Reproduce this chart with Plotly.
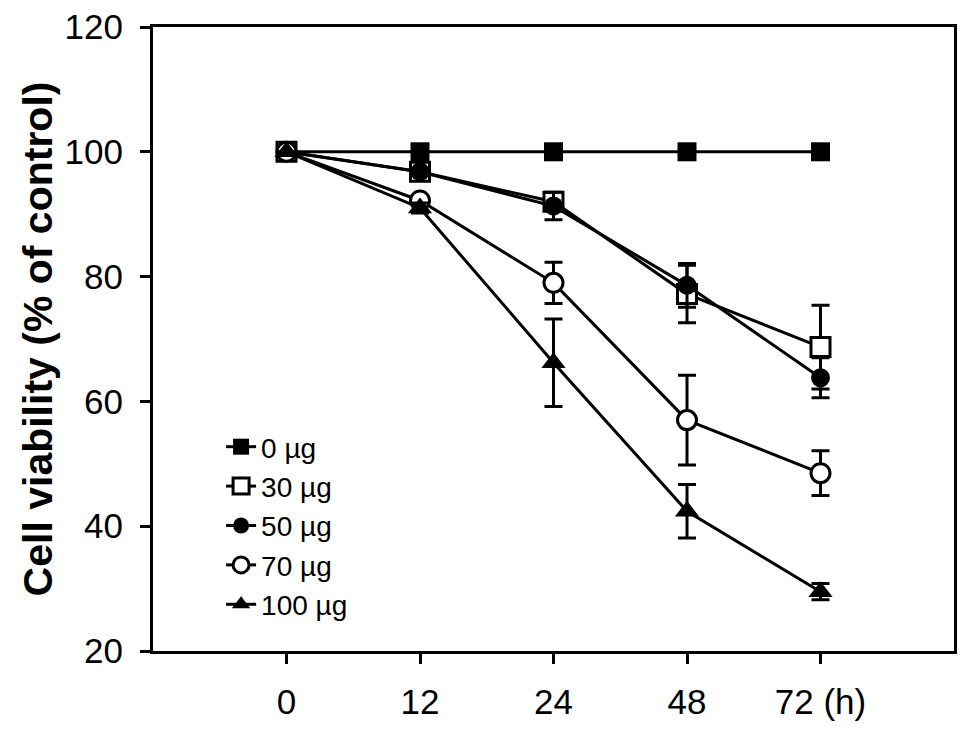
import plotly.graph_objects as go

# time points (h) and tick labels
hours = ["0", "12", "24", "48", "72 (h)"]
x_pos = [0, 1, 2, 3, 4]

doses = ["0 µg", "30 µg", "50 µg", "70 µg", "100 µg"]

# cell viability, % of control
v_0 = [100, 100, 100, 100, 100]
v_30 = [100, 96.8, 92.0, 77.2, 68.7]
v_50 = [100, 96.8, 91.3, 78.6, 63.8]
v_70 = [100, 92.2, 79.0, 57.0, 48.5]
v_100 = [100, 91.0, 66.2, 42.4, 29.5]

e_0 = [0, 0, 0, 0, 0]
e_30 = [0, 0.5, 1.0, 4.6, 6.7]
e_50 = [0, 0.5, 2.2, 3.5, 3.2]
e_70 = [0, 0.8, 3.3, 7.2, 3.6]
e_100 = [0, 0.8, 7.0, 4.3, 1.3]

values = [v_0, v_30, v_50, v_70, v_100]
errors = [e_0, e_30, e_50, e_70, e_100]
symbols = ["square", "square", "circle", "circle", "triangle-up"]
fills = ["black", "white", "black", "white", "black"]

fig = go.Figure()

for name, vals, errs, sym, fill in zip(doses, values, errors, symbols, fills):
    fig.add_trace(go.Scatter(
        x=x_pos,
        y=vals,
        name=name,
        legendgroup=name,
        mode="lines+markers",
        line=dict(color="black", width=3),
        marker=dict(
            symbol=sym,
            size=19 if sym != "triangle-up" else 21,
            color=fill,
            line=dict(color="black", width=3 if fill == "white" else 0),
        ),
        error_y=dict(type="data", array=errs, visible=True,
                     color="black", thickness=3, width=9),
    ))

font_main = "Liberation Sans, Arial, sans-serif"

# the page adds ~8px body margin, so margins are nudged to compensate
fig.update_layout(
    width=969,
    height=736,
    margin=dict(l=145, r=23, t=19, b=93),
    plot_bgcolor="white",
    paper_bgcolor="white",
    font=dict(family=font_main, color="black"),
    showlegend=True,
    legend=dict(
        x=0.085, y=0.367, xanchor="left", yanchor="top",
        bgcolor="rgba(0,0,0,0)",
        font=dict(size=28, family=font_main),
        tracegroupgap=0,
    ),
)

fig.update_xaxes(
    range=[-1, 5],
    tickvals=x_pos,
    ticktext=hours,
    showgrid=False,
    zeroline=False,
    showline=True,
    linecolor="black",
    linewidth=3,
    mirror=True,
    ticks="outside",
    ticklen=10,
    tickwidth=3,
    tickcolor="black",
    tickfont=dict(size=35),
    ticklabelstandoff=8,
    ticklabeloverflow="allow",
    automargin=False,
)

fig.update_yaxes(
    range=[20, 120],
    dtick=20,
    showgrid=False,
    zeroline=False,
    showline=True,
    linecolor="black",
    linewidth=3,
    mirror=True,
    ticks="outside",
    ticklen=10,
    tickwidth=3,
    tickcolor="black",
    tickfont=dict(size=35),
    ticklabelstandoff=10,
    ticklabeloverflow="allow",
    automargin=False,
    title=dict(text="<b>Cell viability (% of control)</b>",
               font=dict(size=41), standoff=0),
)

fig.write_html("out.html")
